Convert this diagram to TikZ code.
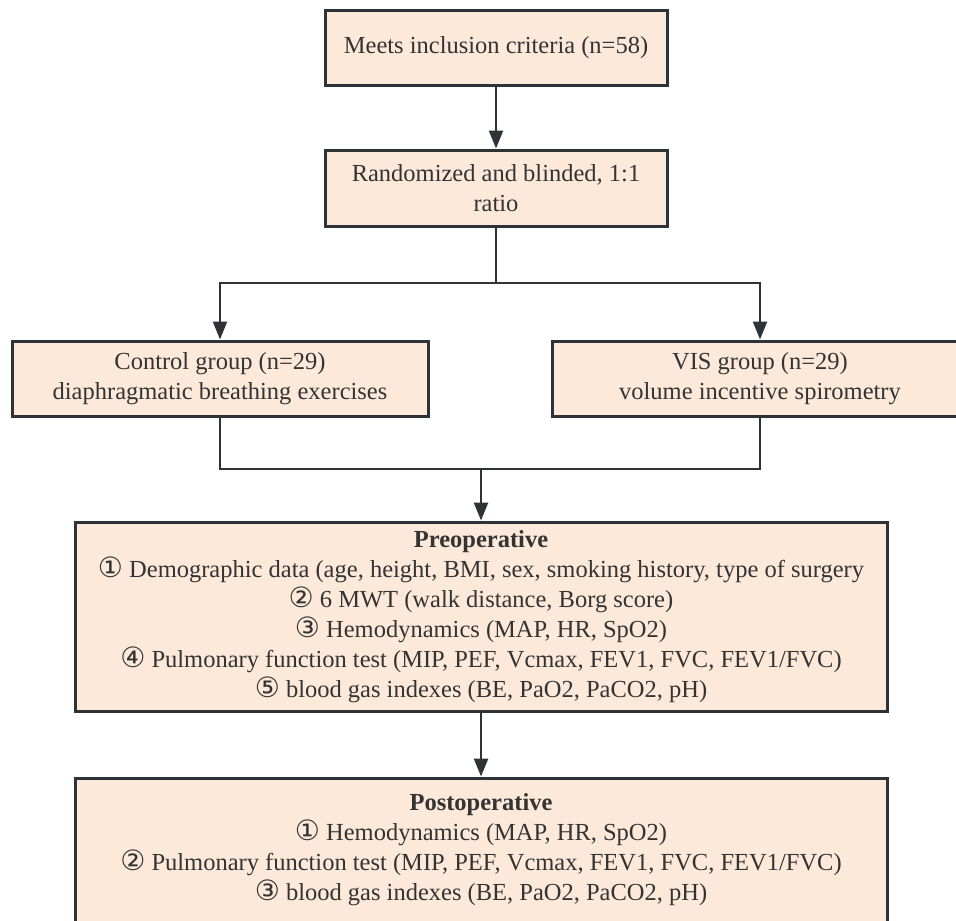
\documentclass[tikz,border=0pt]{standalone}
\usepackage{fontspec}
\setmainfont{Liberation Serif}
\newfontfamily\cfont{DejaVu Sans}
\usetikzlibrary{arrows.meta}
\definecolor{boxfill}{HTML}{FCE9DA}
\definecolor{boxline}{HTML}{2F3338}
\definecolor{txt}{HTML}{333333}
\newcommand{\cn}[1]{{\cfont\fontsize{28}{30}\selectfont #1}}
\begin{document}
\begin{tikzpicture}[x=1pt,y=-1pt,
  box/.style={draw=boxline, line width=3pt, fill=boxfill, text=txt, align=center, inner sep=0pt, font=\fontsize{24.5}{30}\selectfont},
  conn/.style={draw=boxline, line width=2.5pt},
  arr/.style={conn, -{Triangle[length=18pt,width=14pt]}}]
\useasboundingbox (0,0) rectangle (956,921);
\clip (0,0) rectangle (956,921);
\node[box, minimum width=342pt, minimum height=75pt] (a) at (496,47.5) {Meets inclusion criteria (n=58)};
\node[box, minimum width=342pt, minimum height=76pt] (b) at (496,188) {Randomized and blinded, 1:1\\ratio};
\node[box, minimum width=416pt, minimum height=75pt] (c) at (220,378.5) {Control group (n=29)\\diaphragmatic breathing exercises};
\node[box, minimum width=416pt, minimum height=75pt] (v) at (760,378.5) {VIS group (n=29)\\volume incentive spirometry};
\node[box, minimum width=812pt, minimum height=189pt] (p) at (481,616.5) {\textbf{Preoperative}\\
\cn{①} Demographic data (age, height, BMI, sex, smoking history, type of surgery\\
\cn{②} 6 MWT (walk distance, Borg score)\\
\cn{③} Hemodynamics (MAP, HR, SpO2)\\
\cn{④} Pulmonary function test (MIP, PEF, Vcmax, FEV1, FVC, FEV1/FVC)\\
\cn{⑤} blood gas indexes (BE, PaO2, PaCO2, pH)};
\node[box, minimum width=812pt, minimum height=144pt] (q) at (481,850) {\textbf{Postoperative}\\
\cn{①} Hemodynamics (MAP, HR, SpO2)\\
\cn{②} Pulmonary function test (MIP, PEF, Vcmax, FEV1, FVC, FEV1/FVC)\\
\cn{③} blood gas indexes (BE, PaO2, PaCO2, pH)};
\coordinate (split) at (496,283);
\coordinate (merge) at (481,469);
\draw[arr] (a) -- (b);
\draw[conn] (b.south) -- (split);
\draw[arr] (split) -| (c.north);
\draw[arr] (split) -| (v.north);
\draw[conn] (c.south) |- (merge);
\draw[conn] (v.south) |- (merge);
\draw[arr] (merge) -- (p.north);
\draw[arr] (p.south) -- (q.north);
\end{tikzpicture}
\end{document}
